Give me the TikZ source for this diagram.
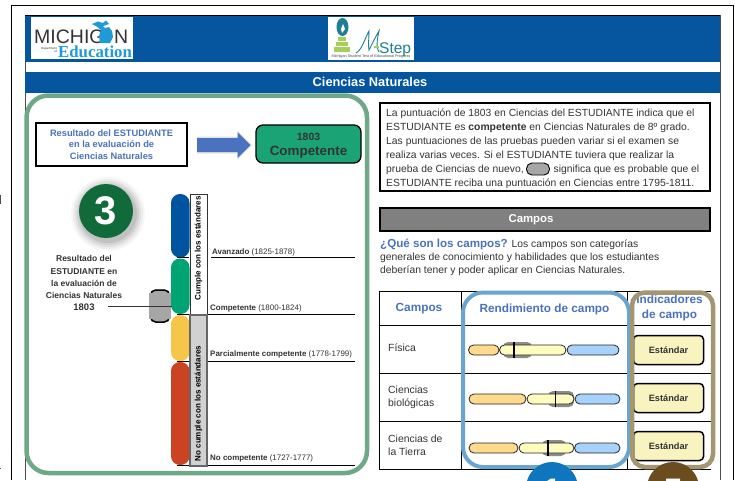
\documentclass[tikz,border=0pt]{standalone}
\usepackage{fontspec}
\setmainfont{Liberation Sans}
\newfontfamily\serifedu{Liberation Serif}
\usetikzlibrary{calc}
\definecolor{hdrblue}{HTML}{05569F}
\definecolor{framegreen}{HTML}{6FA886}
\definecolor{labelblue}{HTML}{4A72BE}
\definecolor{compgreen}{HTML}{1AA476}
\definecolor{darkgreen}{HTML}{106A39}
\definecolor{txt}{HTML}{333333}
\definecolor{lvlblue}{HTML}{00539F}
\definecolor{lvlgreen}{HTML}{00A473}
\definecolor{lvlyellow}{HTML}{F6C64A}
\definecolor{lvlred}{HTML}{CC4324}
\definecolor{pillgrey}{HTML}{A6A6A6}
\definecolor{barorange}{HTML}{FFD98C}
\definecolor{baryellow}{HTML}{FFFDBE}
\definecolor{barblue}{HTML}{A7D2FB}
\definecolor{framesky}{HTML}{6AA5CF}
\definecolor{framebrown}{HTML}{A39670}
\definecolor{btn}{HTML}{F9F3C0}
\definecolor{circblue}{HTML}{0F75BC}
\definecolor{circbrown}{HTML}{6B4C1E}
\definecolor{edublue}{HTML}{1E9BD7}
\definecolor{stepteal}{HTML}{1F7F92}
\definecolor{stepgreen}{HTML}{A6CE5A}
\tikzset{
  x=1pt,y=-1pt,
  body/.style={font=\fontsize{10.35}{12}\selectfont,text=txt,anchor=base west,inner sep=0pt},
  tiny lab/.style={font=\fontsize{7.95}{9}\selectfont,text=txt,anchor=base west,inner sep=0pt},
  side/.style={font=\bfseries\fontsize{8.5}{9}\selectfont,text=txt,anchor=base,inner sep=0pt},
  rot lab/.style={font=\bfseries\fontsize{8}{9}\selectfont,text=black,rotate=90,inner sep=0pt},
  head blue/.style={font=\bfseries\fontsize{11.8}{14.5}\selectfont,text=labelblue,inner sep=0pt,align=center},
  cell/.style={font=\fontsize{10.4}{13}\selectfont,text=txt,anchor=west,inner sep=0pt,align=left},
  rule/.style={black,line width=0.9pt},
  level/.style={rounded corners=8.9pt},
  btnbox/.style={draw=black,line width=1.5pt,fill=btn,rounded corners=4pt,minimum width=70pt,minimum height=29pt,inner sep=0pt,font=\bfseries\fontsize{9.2}{10}\selectfont,text=txt},
  seg/.style={draw=black!85,line width=0.8pt,rounded corners=5pt},
  grey pill/.style={fill=black!45,rounded corners=5pt},
  tick/.style={black,line width=1.7pt},
  badge/.style={circle,minimum size=52pt,inner sep=0pt},
  badge digit/.style={font=\bfseries\fontsize{34}{34}\selectfont,text=white,inner sep=0pt},
}
\begin{document}
\begin{tikzpicture}
\clip (0,0) rectangle (735,480);
\fill[white] (0,0) rectangle (735,480);
% page edge crumbs
\fill[black!70] (0,195) rectangle (1.2,204);
\fill[black!70] (0,468) rectangle (1.2,469);
% frames
\draw[black,line width=1pt] (11,480) -- (11,5.5) -- (733,5.5) -- (733,480);
\draw[black!70,line width=0.7pt] (25,480) -- (25,15) -- (720,15) -- (720,480);
\fill[hdrblue] (25,15) rectangle (720,62);
\fill[hdrblue] (25,72) rectangle (720,93);
\draw[black,line width=0.8pt] (25,15) -- (720,15);
\node[font=\bfseries\fontsize{12.8}{14}\selectfont,text=white] (title) at (370,82) {Ciencias Naturales};
% Michigan logo
\fill[white] (31,17) rectangle (133,59);
\node[font=\fontsize{19.5}{20}\selectfont,text=black!80,anchor=base west,inner sep=0pt] (mich) at (34,43) {MICHIG};
\node[font=\fontsize{19.5}{20}\selectfont,text=black!80,anchor=base west,inner sep=0pt] (michn) at (114,43) {N};
\fill[edublue] (92,24) -- (98,21.5) -- (103,23) -- (106,20.5) -- (109,24) -- (103,26) -- (105,28) -- (109,27) -- (112,31) -- (113,37) -- (110,43) -- (100,43) -- (99,36) -- (101,30) -- (96,26) -- cycle;
\node[font=\fontsize{3}{3.6}\selectfont,text=black!80,align=right,inner sep=0pt,anchor=east] (dept) at (57,50) {Department\\of};
\node[font=\serifedu\bfseries\fontsize{16.8}{18}\selectfont,text=edublue,anchor=base west,inner sep=0pt] (edu) at (58,57) {Education};
% M-Step logo
\fill[white] (328,17) rectangle (414,60);
\fill[stepgreen] (338,37) rectangle (346,41);
\fill[stepgreen] (336,42) rectangle (348,46);
\fill[stepgreen] (334,47) rectangle (350,51.5);
\fill[stepteal] (342.5,27) ellipse [x radius=6,y radius=9];
\fill[white] (343,24) -- (345,29) -- (342,33) -- (341,29) -- cycle;
\draw[stepteal,line width=0.9pt] (356,53) .. controls (362,50) and (365,38) .. (369,31) .. controls (369,38) and (368,46) .. (369,50) .. controls (372,44) and (376,36) .. (379,31) .. controls (377,40) and (376,48) .. (379,52);
\fill[stepgreen] (374,46) rectangle (379,47.5);
\node[font=\fontsize{15.5}{16}\selectfont,text=stepteal,anchor=base west,inner sep=0pt] (steps) at (379,53) {Step};
\node[font=\fontsize{3.8}{4}\selectfont,text=black!70,inner sep=0pt] (steptag) at (371,57) {Michigan Student Test of Educational Progress};
% green frame
\draw[framegreen,line width=4.5pt,rounded corners=22pt] (26.5,95.5) rectangle (367,473);
% student box & arrow
\node[draw=black,line width=1.3pt,fill=white,minimum width=151pt,minimum height=43pt,inner sep=0pt,align=center,font=\bfseries\fontsize{9.3}{11.6}\selectfont,text=labelblue] (student) at (111.5,144.5) {Resultado del ESTUDIANTE\\en la evaluación de\\Ciencias Naturales};
\node[draw=black,line width=1.3pt,fill=compgreen,rounded corners=7pt,minimum width=105pt,minimum height=38pt,inner sep=0pt] (score) at (308.5,144) {};
\node[font=\bfseries\fontsize{10.5}{12}\selectfont,text=txt] (scorenum) at (308.5,137) {1803};
\node[font=\bfseries\fontsize{13.4}{15}\selectfont,text=txt] (scorelvl) at (308.5,152) {Competente};
\coordinate (arrowA) at (197,145);
\coordinate (arrowB) at (250.5,145);
\foreach \o/\s in {0.05/2,0.08/1}{
  \fill[black,opacity=\o] ($(arrowA)+(0,-7-\s)$) -- ($(arrowB)+(-13,-7-\s)$) -- ($(arrowB)+(-13,-13-\s)$) -- ($(arrowB)+(\s,0)$) -- ($(arrowB)+(-13,13+\s)$) -- ($(arrowB)+(-13,7+\s)$) -- ($(arrowA)+(0,7+\s)$) -- cycle;
}
\fill[labelblue] ($(arrowA)+(0,-7)$) -- ($(arrowB)+(-13,-7)$) -- ($(arrowB)+(-13,-13)$) -- (arrowB) -- ($(arrowB)+(-13,13)$) -- ($(arrowB)+(-13,7)$) -- ($(arrowA)+(0,7)$) -- cycle;
% circle 3
\foreach \r/\o in {37/0.03,35/0.04,33/0.05,31/0.06,29/0.08}{\fill[black,opacity=\o] (108,214) circle (\r);}
\node[circle,fill=darkgreen,minimum size=54pt,inner sep=0pt,font=\bfseries\fontsize{40}{40}\selectfont,text=white] (three) at (106,211) {3};
% level bars
\fill[lvlblue,level] (171,194) rectangle (189.5,257.5);
\fill[lvlgreen,level] (171,258.5) rectangle (189.5,314);
\fill[lvlyellow,level] (171,315) rectangle (189.5,361);
\fill[lvlred,level] (171,362) rectangle (189.5,465);
% rules
\draw[rule] (177,257.5) -- (189,257.5);
\draw[rule] (211,257.5) -- (355,257.5);
\draw[rule] (177,314.5) -- (355,314.5);
\draw[rule] (177,361.5) -- (355,361.5);
\draw[rule] (177,465.5) -- (355,465.5);
% meets / not meets columns
\node[draw=black!80,line width=0.8pt,fill=white,minimum width=17pt,minimum height=120.5pt,inner sep=0pt] (meets) at (198.5,254.5) {};
\node[draw=black!60,line width=1.1pt,fill=black!18,minimum width=17pt,minimum height=151pt,inner sep=0pt] (notmeets) at (198.5,390.5) {};
\node[rot lab] at (198.5,248.5) {Cumple con los estándares};
\node[rot lab] at (198.5,403.5) {No cumple con los estándares};
% level labels
\node[tiny lab] (l1) at (212,254.5) {\textbf{Avanzado} (1825-1878)};
\node[tiny lab] (l2) at (210,310) {\textbf{Competente} (1800-1824)};
\node[tiny lab] (l3) at (210,356) {\textbf{Parcialmente competente} (1778-1799)};
\node[tiny lab] (l4) at (210,460) {\textbf{No competente} (1727-1777)};
% side text
\node[side] (s1) at (84,261) {Resultado del};
\node[side] at (84,274) {ESTUDIANTE en};
\node[side] at (84,286) {la evaluación de};
\node[side] at (84,298) {Ciencias Naturales};
\node[side,font=\bfseries\fontsize{9.5}{10}\selectfont] (sscore) at (84,310.5) {1803};
% grey pill
\node[fill=pillgrey,rounded corners=5pt,minimum width=20pt,minimum height=33pt,inner sep=0pt] (pill) at (160,306) {};
\draw[black,line width=1.5pt,rounded corners=5pt] (150.7,296) -- (150.7,290) -- (169.3,290) -- (169.3,296);
\draw[black,line width=1.5pt,rounded corners=5pt] (150.7,316) -- (150.7,322) -- (169.3,322) -- (169.3,316);
\fill[pillgrey] (149,293) rectangle (171,319);
\coordinate (pillend) at (172,306.5);
\coordinate (linestart) at (108,306.5);
\draw[black!80,line width=1pt] (linestart) -- (pillend);
% paragraph
\node[draw=black,line width=1.2pt,fill=white,minimum width=330pt,minimum height=88pt,inner sep=0pt] (para) at (545,147) {};
\node[body] at (386,116) {La puntuación de 1803 en Ciencias del ESTUDIANTE indica que el};
\node[body] at (386,130.5) {ESTUDIANTE es \textbf{competente} en Ciencias Naturales de 8º grado.};
\node[body] at (386,144.5) {Las puntuaciones de las pruebas pueden variar si el examen se};
\node[body] at (386,158.5) {realiza varias veces. Si el ESTUDIANTE tuviera que realizar la};
\node[body] (p5a) at (386,172.5) {prueba de Ciencias de nuevo,};
\node[draw=black,line width=0.9pt,fill=pillgrey,rounded corners=5.5pt,minimum width=23pt,minimum height=12pt,inner sep=0pt] (ipill) at (538,169) {};
\node[body] (p5b) at (553.5,172.5) {significa que es probable que el};
\node[body] at (386,186.5) {ESTUDIANTE reciba una puntuación en Ciencias entre 1795-1811.};
% Campos band
\node[draw=black,line width=1.2pt,fill=black!50,minimum width=330pt,minimum height=23pt,inner sep=0pt] (campos) at (545,219.5) {};
\node[font=\bfseries\fontsize{11.4}{12}\selectfont,text=white] (campostxt) at (531,220) {Campos};
\node[body] at (380,247) {\textcolor{labelblue}{\textbf{\fontsize{11.6}{12}\selectfont ¿Qué son los campos?}} Los campos son categorías};
\node[body] at (380,260) {generales de conocimiento y habilidades que los estudiantes};
\node[body] at (380,273) {deberían tener y poder aplicar en Ciencias Naturales.};
% table
\draw[black,line width=0.8pt] (711,291) -- (379,291) -- (379,469) -- (711,469);
\draw[black,line width=0.8pt] (379,325.5) -- (711,325.5) (379,373.5) -- (711,373.5) (379,421.5) -- (711,421.5);
\draw[black,line width=0.8pt] (461.5,291) -- (461.5,469) (627.5,291) -- (627.5,469);
\node[head blue] (h1) at (419,309) {Campos};
\node[head blue] (h2) at (544.5,309) {Rendimiento de campo};
\node[head blue] (h3) at (669.5,308) {Indicadores\\de campo};
\node[cell] (c1) at (388,348) {Física};
\node[cell] (c2) at (388,397) {Ciencias\\biológicas};
\node[cell] (c3) at (388,445.5) {Ciencias de\\la Tierra};
% row 1 bars
\fill[grey pill] (503,342) rectangle (532,358);
\draw[seg,fill=barorange] (468.5,345) rectangle (499,355);
\draw[seg,fill=baryellow] (499.5,345) rectangle (566,355);
\draw[seg,fill=barblue] (567,345) rectangle (619,355);
\draw[tick] (514,342) -- (514,358);
% row 2 bars
\fill[grey pill] (548,391) rectangle (574,407);
\draw[seg,fill=barorange] (469,394) rectangle (526,404);
\draw[seg,fill=baryellow] (527,394) rectangle (574,404);
\draw[seg,fill=barblue] (575,394) rectangle (620,404);
\draw[tick] (555.5,391) -- (555.5,407);
% row 3 bars
\fill[grey pill] (542,440) rectangle (566,456);
\draw[seg,fill=barorange] (469,443) rectangle (518,453);
\draw[seg,fill=baryellow] (519,443) rectangle (574,453);
\draw[seg,fill=barblue] (574.5,443) rectangle (620,453);
\draw[tick] (548,440) -- (548,456);
% buttons
\node[btnbox] (b1) at (668.5,350) {Estándar};
\node[btnbox] (b2) at (668.5,398) {Estándar};
\node[btnbox] (b3) at (668.5,446) {Estándar};
% highlight frames
\draw[framesky,line width=4pt,rounded corners=20pt] (463,292.5) rectangle (629,467);
\draw[framebrown,line width=4.5pt,rounded corners=13pt] (632,292.5) rectangle (713,467);
% numbered circles
\node[badge,fill=circblue] (one) at (552,488) {};
\node[badge digit] (onedigit) at (552,491) {1};
\node[badge,fill=circbrown] (five) at (673,488) {};
\node[badge digit] (fivedigit) at (673,491) {5};
\end{tikzpicture}
\end{document}
